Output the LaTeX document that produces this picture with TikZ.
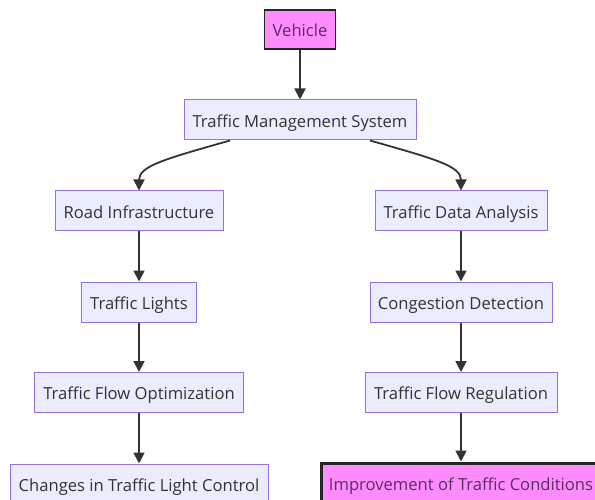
\documentclass[tikz,border=0pt]{standalone}
\usepackage{fontspec}
\setmainfont{Open Sans}
\usetikzlibrary{arrows.meta,calc}
\definecolor{lav}{HTML}{ECECFF}
\definecolor{lavb}{HTML}{9370DB}
\definecolor{pinkf}{HTML}{FF8CFF}
\definecolor{txt}{HTML}{333333}
\definecolor{ptxt}{HTML}{5A2D62}
\tikzset{
  lbl/.style={font=\fontsize{16.6}{19}\selectfont, text height=14.5pt, text depth=0pt},
  box/.style={lbl, draw=lavb, fill=lav, line width=1pt, minimum height=40pt, inner sep=0pt,
    text=txt},
  hibox/.style={lbl, draw=black!85, fill=pinkf, minimum height=40pt, inner sep=0pt,
    text=ptxt},
  arr/.style={draw=txt, line width=1.8pt, -{Triangle[length=11pt,width=11pt]}}
}
\begin{document}
\begin{tikzpicture}[x=1pt,y=-1pt]
\useasboundingbox (0,0) rectangle (595,500);
\node[hibox, line width=1.5pt, minimum width=71pt, minimum height=39pt] (veh) at (300,29.5) {Vehicle};
\node[box, minimum width=232pt] (tms) at (300,120) {Traffic Management System};
\node[box, minimum width=168pt] (ri) at (139,211) {Road Infrastructure};
\node[box, minimum width=172pt] (tda) at (461,211) {Traffic Data Analysis};
\node[box, minimum width=115pt] (tl) at (139,302) {Traffic Lights};
\node[box, minimum width=182pt] (cd) at (461,302) {Congestion Detection};
\node[box, minimum width=209pt] (tfo) at (139,392.5) {Traffic Flow Optimization};
\node[box, minimum width=192pt] (tfr) at (461,392.5) {Traffic Flow Regulation};
\node[box, minimum width=258pt] (chg) at (139,484) {Changes in Traffic Light Control};
\node[hibox, line width=3pt, minimum width=280pt] (imp) at (461,483) {Improvement of Traffic Conditions};

\draw[arr] (veh) -- (tms);
\draw[arr] ([xshift=-70pt]tms.south) .. controls (165,159) and (139,166) .. (ri.north);
\draw[arr] ([xshift=70pt]tms.south) .. controls (435,159) and (461,166) .. (tda.north);
\draw[arr] (ri) -- (tl);
\draw[arr] (tl) -- (tfo);
\draw[arr] (tfo) -- (chg);
\draw[arr] (tda) -- (cd);
\draw[arr] (cd) -- (tfr);
\draw[arr] (tfr) -- (imp);
\end{tikzpicture}
\end{document}
